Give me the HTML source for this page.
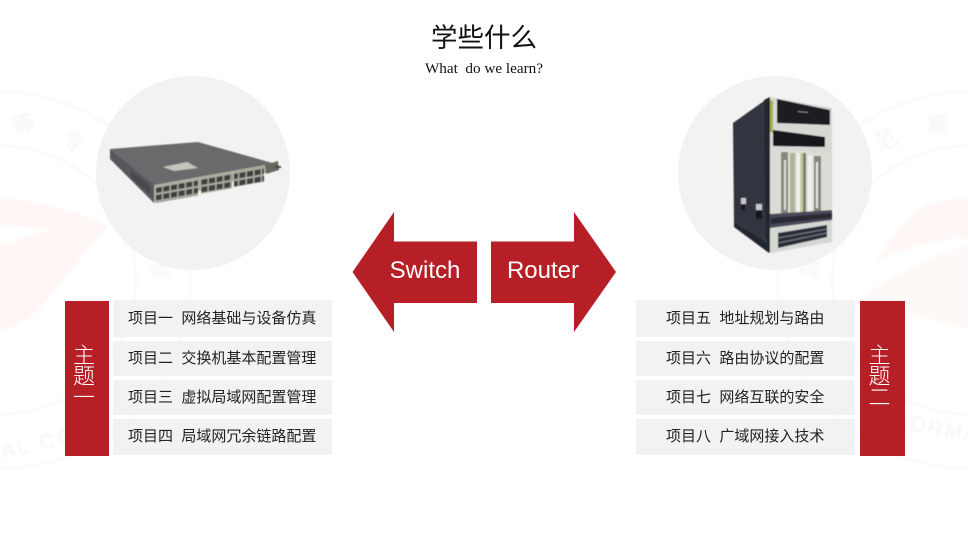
<!DOCTYPE html>
<html><head><meta charset="utf-8"><style>
html,body{margin:0;padding:0;background:#fff}
#p{position:relative;width:968px;height:544px;overflow:hidden;background:#fff;font-family:"Liberation Sans","Noto Sans CJK SC",sans-serif}
svg{position:absolute;left:0;top:0}
.t{position:absolute;white-space:pre;text-align:center}
.row{position:absolute;width:219px;background:#f2f2f2;color:#222;font-size:15px;line-height:37px;white-space:pre;box-sizing:border-box}
.bar{position:absolute;top:301px;width:44px;height:155px;background:#b71f26}
.v{position:absolute;left:-3px;width:44px;text-align:center;color:#fff;font-size:22px;line-height:21px;font-weight:300}
</style></head><body><div id="p">
<svg width="968" height="544" viewBox="0 0 968 544">
<defs>
<filter id="b"><feGaussianBlur stdDeviation="0.5"/></filter>
<filter id="w"><feGaussianBlur stdDeviation="1"/></filter>
<pattern id="ports2" width="7.6" height="7.4" patternUnits="userSpaceOnUse" x="0" y="0">
<rect width="7.6" height="7.4" fill="#a8a89c"/><rect x=".8" y="1" width="6" height="5.2" fill="#3a403d"/>
</pattern>
</defs>
<g filter="url(#w)">
<path d="M0 198C40 200 80 212 108 226C90 248 62 280 42 306C30 320 12 328 0 332V245L50 229L0 225Z" fill="#fef7f6"/>
<path d="M875 263C890 240 905 215 927 205C940 200 955 198 968 198V238C930 240 900 250 875 263Z" fill="#fef7f6"/>
<path d="M853 303C885 280 925 258 968 245V330C940 320 900 310 853 303Z" fill="#fef8f7"/>
<g fill="none" stroke="#f9f7f7" stroke-width="2">
<circle cx="2" cy="280" r="188"/><circle cx="2" cy="280" r="134"/>
<circle cx="966" cy="280" r="188"/><circle cx="966" cy="280" r="134"/>
</g>
<g font-family="'Noto Sans CJK SC',sans-serif" fill="#f5f3f3" font-size="23">
<text x="12" y="132" transform="rotate(-12 24 124)">等</text>
<text x="62" y="150" transform="rotate(35 74 142)">专</text>
<text x="874" y="148" transform="rotate(-25 886 140)">范</text>
<text x="926" y="133" transform="rotate(-6 938 125)">高</text>
<text x="150" y="278" transform="rotate(-20 162 270)" font-size="20">师</text>
<text x="800" y="276" transform="rotate(15 810 268)" font-size="20">院</text>
</g>
<g font-family="'Liberation Sans',sans-serif" fill="#f5f3f3" font-size="21">
<text x="0" y="452" transform="rotate(-12 30 445)" letter-spacing="3">AL CO</text>
<text x="907" y="435" transform="rotate(12 935 440)" letter-spacing="2">ORMA</text>
</g>
</g>
<circle cx="193" cy="173" r="97" fill="#f2f2f2"/>
<circle cx="775" cy="173" r="97" fill="#f2f2f2"/>

<g filter="url(#b)">
<polygon points="110,149 198,142 276,164 154,186" fill="#6b6b6d"/>
<polygon points="110,149 154,185 154,203 110,159" fill="#58595c"/>
<polygon points="163,167 187,162 198,168 174,171" fill="#c4c4be"/>
<polygon points="130,170 150,186 150,194 131,178" fill="#47484b"/>
<polygon points="154,185 265,165 277,164 277,170 265,173 154,203" fill="#aeaea1"/>
<g transform="matrix(1,-.178,0,1,155,187)">
<rect x="1" y="1" width="42" height="15" fill="url(#ports2)"/>
<rect x="46" y="0" width="31" height="15" fill="url(#ports2)"/>
<rect x="79" y="-1" width="30" height="15" fill="url(#ports2)"/>
</g>
<polygon points="265,165 278,161 279,170 266,174" fill="#66675f"/>
<polygon points="275,166 281,166 281,168 275,168" fill="#444"/>
</g>

<g filter="url(#b)">
<polygon points="733,123 764,101 769,247 765,240 734,222" fill="#30343f"/>
<polygon points="734,222 765,240 769,253 734,227" fill="#23252e"/>
<rect x="741" y="198" width="5" height="6" fill="#c6c7c9"/><rect x="741" y="205" width="4" height="5" fill="#15161c"/>
<rect x="756" y="204" width="6" height="6" fill="#c6c7c9"/><rect x="756" y="211" width="6" height="8" fill="#15161c"/>
<polygon points="764,100 770,97 770,253 766,250" fill="#23262f"/>
<polygon points="770,97 832,108 832,242 770,253" fill="#d7d8d4"/>
<polygon points="770,100 773,101 773,133 770,132" fill="#a7b14c"/>
<polygon points="777,99 830,110 830,125 777,123" fill="#1b1d22"/>
<polygon points="773,130 825,137 825,147 773,146" fill="#15171b"/>
<polygon points="770,148 831,153 831,214 770,216" fill="#dcdcd7"/>
<rect x="781" y="152" width="7" height="64" fill="#85877a"/>
<rect x="784" y="160" width="2" height="50" fill="#dedfd8"/>
<rect x="790" y="153" width="5" height="62" fill="#b0b298"/>
<rect x="797" y="153" width="3" height="62" fill="#f3f3f0"/>
<rect x="800" y="153" width="4" height="62" fill="#c6ca9e"/>
<rect x="803" y="153" width="3" height="62" fill="#7a7c6c"/>
<rect x="808" y="155" width="4" height="58" fill="#efefec"/>
<rect x="814" y="156" width="7" height="58" fill="#85877a"/>
<rect x="816" y="162" width="2" height="46" fill="#e8e8e4"/>
<polygon points="770,214 832,210 832,220 770,228" fill="#484c5a"/>
<polygon points="771,218 832,213 832,218 771,224" fill="#2a2c35"/>
<polygon points="770,232 832,221 832,242 770,253" fill="#d6d7d3"/>
<polygon points="778,233 827,225 827,237 778,248" fill="#2b2e38"/>
<path d="M778 238L827 229M778 243L827 233" stroke="#7d8088" stroke-width="1"/>
<polygon points="798,111 808,112 808,113 798,112" fill="#888"/>
</g>

<polygon points="352.5,272 394,212 394,241.5 477,241.5 477,303 394,303 394,332" fill="#b71f26"/>
<polygon points="616,272 574,212 574,241.5 491,241.5 491,303 574,303 574,332" fill="#b71f26"/>
</svg>

<div class="t" style="left:384px;top:18px;width:200px;font-size:26.5px;line-height:36px;color:#111;font-family:'Noto Sans CJK SC',sans-serif">学些什么</div>
<div class="t" style="left:384px;top:59px;width:200px;font-size:15.2px;line-height:20px;color:#111;font-family:'Liberation Serif',serif">What  do we learn?</div>
<div class="t" style="left:375px;top:256px;width:100px;font-size:24px;line-height:30px;color:#fff">Switch</div>
<div class="t" style="left:493px;top:256px;width:100px;font-size:24px;line-height:30px;color:#fff">Router</div>

<div class="bar" style="left:65px"><div class="v" style="top:44px">主<br>题<br>一</div></div>
<div class="row" style="left:113px;top:300px;height:37px;padding-left:15px">项目一  网络基础与设备仿真</div>
<div class="row" style="left:113px;top:341px;height:35px;line-height:36px;padding-left:15px">项目二  交换机基本配置管理</div>
<div class="row" style="left:113px;top:380px;height:35px;line-height:36px;padding-left:15px">项目三  虚拟局域网配置管理</div>
<div class="row" style="left:113px;top:419px;height:36px;line-height:36px;padding-left:15px">项目四  局域网冗余链路配置</div>

<div class="bar" style="left:860px;width:45px"><div class="v" style="top:44px;width:45px">主<br>题<br>二</div></div>
<div class="row" style="left:636px;top:300px;height:37px;padding-left:30px">项目五  地址规划与路由</div>
<div class="row" style="left:636px;top:341px;height:35px;line-height:36px;padding-left:30px">项目六  路由协议的配置</div>
<div class="row" style="left:636px;top:380px;height:35px;line-height:36px;padding-left:30px">项目七  网络互联的安全</div>
<div class="row" style="left:636px;top:419px;height:36px;line-height:36px;padding-left:30px">项目八  广域网接入技术</div>
</div></body></html>
